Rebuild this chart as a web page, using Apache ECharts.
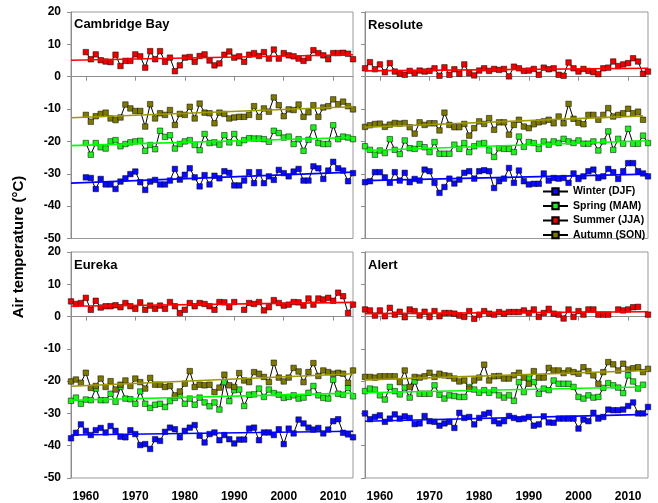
<!DOCTYPE html>
<html><head><meta charset="utf-8">
<script src="https://cdn.jsdelivr.net/npm/echarts@6/dist/echarts.min.js"></script>
<style>html,body{margin:0;padding:0;background:#fff}#c{width:658px;height:503px}</style>
</head><body><div id="c"></div><script>
// ---------------- data ----------------
const years = [1957,1958,1959,1960,1961,1962,1963,1964,1965,1966,1967,1968,1969,1970,1971,1972,1973,1974,1975,1976,1977,1978,1979,1980,1981,1982,1983,1984,1985,1986,1987,1988,1989,1990,1991,1992,1993,1994,1995,1996,1997,1998,1999,2000,2001,2002,2003,2004,2005,2006,2007,2008,2009,2010,2011,2012,2013,2014];
const yearsCambridge = [1960,1961,1962,1963,1964,1965,1966,1967,1968,1969,1970,1971,1972,1973,1974,1975,1976,1977,1978,1979,1980,1981,1982,1983,1984,1985,1986,1987,1988,1989,1990,1991,1992,1993,1994,1995,1996,1997,1998,1999,2000,2001,2002,2003,2004,2005,2006,2007,2008,2009,2010,2011,2012,2013,2014];
const seasonNames = ['Winter (DJF)','Spring (MAM)','Summer (JJA)','Autumn (SON)'];
const xTickLabels = [1960,1970,1980,1990,2000,2010];

// Cambridge Bay (1960-2014)
const cbWinter = [-31.1,-31.3,-34.7,-31.6,-33.3,-33.3,-34.7,-32.4,-31.4,-30.1,-29.3,-32.6,-35.0,-32.4,-31.9,-33.3,-33.3,-32.1,-28.5,-31.8,-30.3,-28.3,-31.1,-33.9,-30.4,-33.3,-30.6,-31.4,-29.2,-29.7,-33.6,-33.6,-32.1,-29.5,-32.9,-29.5,-32.9,-30.8,-31.9,-28.8,-29.8,-30.8,-29.3,-28.5,-32.1,-32.1,-27.7,-28.3,-31.6,-29.0,-26.3,-28.3,-29.0,-32.3,-29.8];
const cbSpring = [-20.5,-24.1,-20.5,-21.8,-22.2,-20.0,-19.6,-21.5,-20.8,-20.3,-20.0,-19.8,-22.9,-21.1,-22.4,-16.7,-18.6,-18.1,-22.2,-20.8,-20.0,-19.6,-21.1,-22.7,-17.7,-20.5,-20.3,-21.0,-18.1,-20.3,-17.7,-20.5,-19.6,-19.0,-19.1,-19.1,-19.3,-20.1,-16.7,-17.4,-18.8,-18.5,-20.8,-19.3,-22.9,-19.5,-15.7,-20.5,-20.8,-20.8,-15.0,-19.3,-18.5,-18.8,-19.3];
const cbSummer = [7.6,5.4,6.9,5.1,4.7,4.5,6.8,3.3,4.9,4.9,6.9,6.3,2.8,7.9,5.4,7.9,4.6,5.9,1.7,3.5,5.9,6.1,4.6,6.4,6.9,5.0,3.5,4.1,6.8,7.8,5.9,6.3,4.6,6.8,7.3,6.4,7.6,5.6,8.4,5.6,7.3,6.6,6.3,5.6,4.9,5.8,8.2,7.3,6.6,5.4,7.3,7.3,7.4,7.1,5.4];
const cbAutumn = [-11.8,-13.9,-12.2,-11.5,-11.1,-12.9,-13.4,-12.6,-8.6,-9.8,-10.6,-10.6,-15.4,-8.5,-12.9,-11.3,-11.8,-10.3,-14.9,-11.5,-11.8,-9.3,-12.9,-8.3,-11.1,-11.3,-14.4,-11.1,-11.5,-12.9,-12.6,-12.4,-12.4,-11.8,-9.1,-12.4,-9.8,-10.8,-6.4,-8.8,-12.2,-10.1,-10.3,-8.6,-12.4,-11.0,-8.8,-12.4,-9.5,-9.1,-7.0,-8.5,-7.7,-9.1,-10.1];
const cbTrendYears = [1957,2014,1957,2014,1957,2014,1957,2014];
const cbTrendValues = [-32.9,-29.5,-21.3,-18.8,5.1,6.8,-12.7,-9.3];

// Resolute (1957-2014)
const reWinter = [-32.6,-32.3,-29.5,-29.5,-31.1,-32.8,-29.5,-32.1,-29.7,-32.6,-31.6,-32.1,-28.7,-29.2,-32.8,-35.9,-34.1,-31.5,-33.0,-31.8,-29.7,-29.2,-31.5,-29.2,-28.9,-29.2,-34.4,-32.3,-31.5,-28.2,-32.8,-29.0,-32.3,-33.3,-33.1,-33.1,-29.9,-32.1,-31.3,-31.5,-31.3,-32.8,-29.9,-31.6,-30.8,-29.2,-28.7,-31.3,-30.8,-28.5,-29.5,-31.6,-29.2,-26.7,-26.7,-29.2,-29.9,-30.8];
const reSpring = [-21.5,-22.6,-24.1,-22.8,-23.6,-19.3,-22.6,-23.9,-19.7,-22.1,-22.3,-20.8,-21.8,-23.3,-20.2,-23.8,-23.8,-23.8,-21.0,-22.3,-20.5,-23.3,-21.5,-20.7,-20.5,-22.8,-24.8,-22.1,-22.3,-22.3,-23.3,-18.5,-21.7,-20.2,-20.5,-22.3,-20.0,-21.0,-20.0,-20.5,-19.2,-20.0,-20.5,-19.7,-20.7,-20.7,-20.0,-22.8,-20.0,-16.9,-22.6,-19.2,-20.7,-16.1,-20.7,-20.7,-18.2,-20.5];
const reSummer = [2.6,4.5,2.3,3.8,1.4,4.2,1.6,0.9,0.6,1.8,1.1,1.9,1.6,1.8,2.6,0.3,2.9,0.6,2.3,0.9,3.8,1.1,0.4,1.9,2.6,1.8,2.4,2.1,2.4,0.1,3.1,2.6,1.8,1.9,2.4,0.6,2.8,2.3,2.6,0.6,0.3,4.4,2.6,1.6,2.4,1.8,1.4,0.8,2.6,2.8,4.7,3.3,3.8,4.2,5.7,4.7,0.9,1.6];
const reAutumn = [-15.5,-15.0,-14.6,-14.5,-15.5,-14.8,-14.3,-14.5,-14.3,-15.6,-17.6,-14.1,-14.9,-14.4,-14.4,-16.6,-11.1,-14.9,-15.6,-15.6,-14.6,-18.2,-15.9,-13.8,-14.6,-12.8,-16.4,-14.1,-14.1,-17.9,-14.9,-13.3,-15.4,-15.9,-14.7,-14.1,-13.8,-13.3,-14.4,-12.3,-14.4,-8.4,-13.0,-14.2,-14.7,-11.8,-11.8,-13.3,-11.8,-9.7,-12.3,-11.8,-11.3,-9.9,-11.3,-10.8,-13.3,null];
const reTrendYears = [1957,2014,1957,2014,1957,2014,1957,2013];
const reTrendValues = [-32.1,-30.1,-22.8,-19.8,1.8,2.6,-15.6,-12.1];

// Eureka (1957-2014)
const euWinter = [-37.7,-36.0,-33.4,-35.4,-36.7,-35.2,-34.5,-35.9,-33.9,-35.4,-37.2,-37.4,-35.2,-36.4,-39.8,-39.5,-41.0,-38.0,-38.5,-35.7,-34.4,-34.9,-37.4,-35.4,-34.4,-33.6,-36.9,-39.0,-36.4,-35.9,-38.3,-36.7,-38.0,-39.3,-38.1,-38.1,-34.7,-34.4,-38.3,-35.9,-35.9,-36.7,-34.9,-39.5,-34.7,-36.2,-31.9,-33.1,-34.4,-35.0,-34.5,-36.2,-35.0,-32.4,-31.8,-36.0,-36.5,-37.4];
const euSpring = [-26.1,-25.1,-27.0,-25.7,-25.9,-22.3,-25.9,-25.9,-23.9,-26.4,-21.8,-25.4,-25.6,-27.0,-23.2,-27.0,-28.3,-27.3,-27.0,-28.0,-26.2,-25.2,-24.4,-27.0,-25.4,-27.3,-25.1,-26.6,-27.8,-26.6,-28.8,-20.3,-26.2,-22.8,-22.6,-27.7,-24.2,-24.1,-22.3,-24.9,-22.6,-23.7,-24.2,-25.2,-24.9,-24.4,-25.4,-25.1,-23.6,-21.5,-24.4,-25.2,-25.4,-19.6,-23.9,-24.2,-22.1,-24.7];
const euSummer = [4.7,3.9,4.2,5.8,2.1,4.9,2.8,3.2,3.2,3.5,2.9,4.2,3.2,2.4,4.4,2.1,3.4,2.4,3.4,2.4,4.5,3.2,1.1,2.1,4.2,3.2,4.2,3.9,3.2,2.1,4.5,4.4,2.9,4.5,null,2.1,4.2,3.9,4.5,1.9,2.9,5.1,4.2,3.4,3.7,4.5,4.4,3.4,5.6,3.7,5.6,5.3,5.8,4.9,7.4,6.3,1.1,3.7];
const euAutumn = [-20.1,-19.5,-20.5,-17.4,-22.1,-21.5,-19.2,-21.8,-20.0,-22.6,-21.1,-19.8,-21.5,-19.2,-20.3,-22.3,-19.0,-21.1,-21.1,-21.8,-21.5,-24.4,-23.2,-20.8,-16.9,-21.8,-21.1,-21.3,-21.1,-23.4,-22.0,-18.0,-21.3,-21.8,-17.5,-19.8,-20.3,-17.2,-17.7,-18.7,-20.3,-14.3,-18.9,-20.1,-18.9,-15.9,-17.0,-20.3,-17.2,-14.4,-18.4,-16.7,-17.2,-17.7,-17.4,-17.7,-20.5,-16.7];
const euTrendYears = [1957,2014,1957,2014,1957,2014,1957,2014];
const euTrendValues = [-36.7,-35.5,-25.9,-23.7,3.2,4.4,-21.6,-17.7];

// Alert (1957-2014)
const alWinter = [-30.0,-31.8,-31.1,-30.6,-32.6,-31.6,-30.3,-31.6,-30.9,-31.4,-33.3,-33.1,-30.8,-32.4,-32.6,-33.8,-33.1,-32.6,-34.5,-29.8,-31.4,-31.1,-33.4,-31.4,-30.3,-29.8,-32.4,-33.1,-32.4,-30.8,-31.4,-31.8,-31.6,-31.1,-33.8,-33.4,-30.9,-32.8,-32.9,-31.6,-31.6,-31.6,-31.6,-34.7,-31.9,-32.4,-29.8,-31.6,-31.1,-28.8,-29.0,-29.0,-28.8,-27.7,-26.6,-30.0,-30.0,-28.0];
const alSpring = [-23.1,-22.3,-22.6,-24.4,-25.7,-21.8,-23.1,-24.1,-22.0,-25.1,-20.1,-23.9,-23.9,-23.9,-21.3,-24.2,-25.4,-24.4,-24.6,-24.9,-24.9,-21.8,-22.6,-23.6,-22.8,-23.6,-22.8,-24.4,-25.1,-24.4,-26.1,-20.3,-23.4,-19.2,-20.3,-23.9,-22.3,-22.8,-19.8,-20.8,-20.8,-20.8,-21.8,-24.9,-25.4,-24.4,-25.1,-24.9,-22.1,-20.6,-21.3,-22.0,-23.7,-18.2,-20.1,-22.3,-21.1,null];
const alSummer = [2.2,1.9,0.3,1.9,0.1,2.7,0.6,1.5,-0.2,2.2,1.7,0.3,1.5,-0.1,1.7,0.1,1.1,1.1,0.9,0.3,-0.1,1.7,-0.7,0.6,1.7,0.9,0.6,1.4,0.9,1.4,1.4,1.4,1.9,1.1,2.2,-0.1,1.1,2.4,0.9,0.6,-0.6,2.2,-0.1,1.7,0.6,2.2,2.2,0.6,0.6,0.6,null,2.2,1.9,2.2,2.9,3.0,null,0.6];
const alAutumn = [-18.7,-18.7,-18.9,-18.5,-18.5,-18.5,-18.5,-20.3,-16.7,-21.8,-18.7,-18.9,-18.5,-17.4,-18.7,-17.7,-18.2,-18.4,-19.2,-20.1,-19.8,-22.3,-19.8,-18.9,-14.9,-19.8,-18.5,-18.4,-19.2,-19.2,-18.2,-17.4,-18.9,-20.8,-16.9,-18.9,-18.9,-15.9,-16.7,-16.7,-17.5,-16.7,-17.2,-17.7,-15.7,-16.9,-18.2,-20.8,-17.2,-14.1,-14.8,-16.7,-14.6,-16.4,-16.0,-15.7,-17.2,-16.2];
const alTrendYears = [1957,2014,1957,2013,1957,2014,1957,2014];
const alTrendValues = [-32.4,-30.3,-23.6,-21.8,0.9,1.5,-19.6,-16.7];

// ---------------- chart ----------------
const FONT = '"Liberation Sans", Arial, Helvetica, sans-serif';
const fillColors = ['#0a0aff','#1ef01e','#f00000','#7d7800'];
const trendColors = ['#0000ff','#00ff00','#ff0000','#9c9800'];

const stations = [
  {title:'Cambridge Bay', yrs:yearsCambridge, vals:[cbWinter,cbSpring,cbSummer,cbAutumn], ty:cbTrendYears, tv:cbTrendValues},
  {title:'Resolute', yrs:years, vals:[reWinter,reSpring,reSummer,reAutumn], ty:reTrendYears, tv:reTrendValues},
  {title:'Eureka', yrs:years, vals:[euWinter,euSpring,euSummer,euAutumn], ty:euTrendYears, tv:euTrendValues},
  {title:'Alert', yrs:years, vals:[alWinter,alSpring,alSummer,alAutumn], ty:alTrendYears, tv:alTrendValues}
];

const grids = [
  {left:71, top:12, width:282, height:226.5},
  {left:365, top:12, width:283, height:226.5},
  {left:71, top:252, width:282, height:228},
  {left:365, top:252, width:283, height:228}
].map(g => Object.assign({show:true, borderColor:'#999', borderWidth:1, containLabel:false}, g));

const axisColor = '#8c8c8c';
const xAxes = grids.map((g,i) => ({
  type:'value', gridIndex:i, min:1957, max:2014,
  axisLine:{show:true, lineStyle:{color:axisColor, width:1}},
  axisTick:{show:true, inside:false, length:4, customValues:xTickLabels, lineStyle:{color:axisColor}},
  axisLabel:{show:i>=2, customValues:xTickLabels, formatter:v => String(v), margin:13, fontFamily:FONT, fontWeight:'bold', fontSize:12, color:'#000'},
  splitLine:{show:false}
}));
const yAxes = grids.map((g,i) => ({
  type:'value', gridIndex:i, min:-50, max:20, interval:10,
  axisLine:{show:true, lineStyle:{color:axisColor, width:1}},
  axisTick:{show:true, inside:false, length:4, lineStyle:{color:axisColor}},
  axisLabel:{show:i%2===0, margin:10, fontFamily:FONT, fontWeight:'bold', fontSize:12, color:'#000'},
  splitLine:{show:false}
}));

const series = [];
stations.forEach((st,i) => {
  st.vals.forEach((arr,j) => {
    series.push({
      type:'line', name:seasonNames[j], xAxisIndex:i, yAxisIndex:i,
      data: st.yrs.map((y,k) => [y, arr[k] === null ? '-' : arr[k]]),
      symbol:'rect', symbolSize:5.5, showAllSymbol:true, connectNulls:false,
      lineStyle:{color:'#000', width:1},
      itemStyle:{color:fillColors[j], borderColor:'#000', borderWidth:0.5},
      z:3, animation:false, emphasis:{disabled:true}
    });
  });
  st.vals.forEach((arr,j) => {
    series.push({
      type:'line', name:'trend'+i+'_'+j, xAxisIndex:i, yAxisIndex:i,
      data:[[st.ty[2*j], st.tv[2*j]], [st.ty[2*j+1], st.tv[2*j+1]]],
      symbol:'none', lineStyle:{color:trendColors[j], width:1.6},
      z:4, silent:true, animation:false
    });
  });
});

const titlePos = [[74,24],[368,25],[74,265],[368,265]];
const graphics = stations.map((st,i) => ({
  type:'text', x:titlePos[i][0], y:titlePos[i][1], z:10,
  style:{text:st.title, font:'bold 13px '+FONT, fill:'#000', align:'left', verticalAlign:'middle'}
}));
graphics.push({
  type:'text', x:19, y:247, rotation:Math.PI/2, z:10,
  style:{text:'Air temperature (°C)', font:'bold 15px '+FONT, fill:'#000', align:'center', verticalAlign:'middle'}
});

const chart = echarts.init(document.getElementById('c'), null, {renderer:'canvas'});
chart.setOption({
  animation:false,
  backgroundColor:'#fff',
  grid:grids, xAxis:xAxes, yAxis:yAxes, series:series, graphic:graphics,
  legend:{
    data:seasonNames, orient:'vertical', left:542, top:186, padding:0,
    itemWidth:25, itemHeight:8, itemGap:3.5, selectedMode:false,
    textStyle:{fontFamily:FONT, fontWeight:'bold', fontSize:10.5, color:'#000'}
  }
});
</script></body></html>
